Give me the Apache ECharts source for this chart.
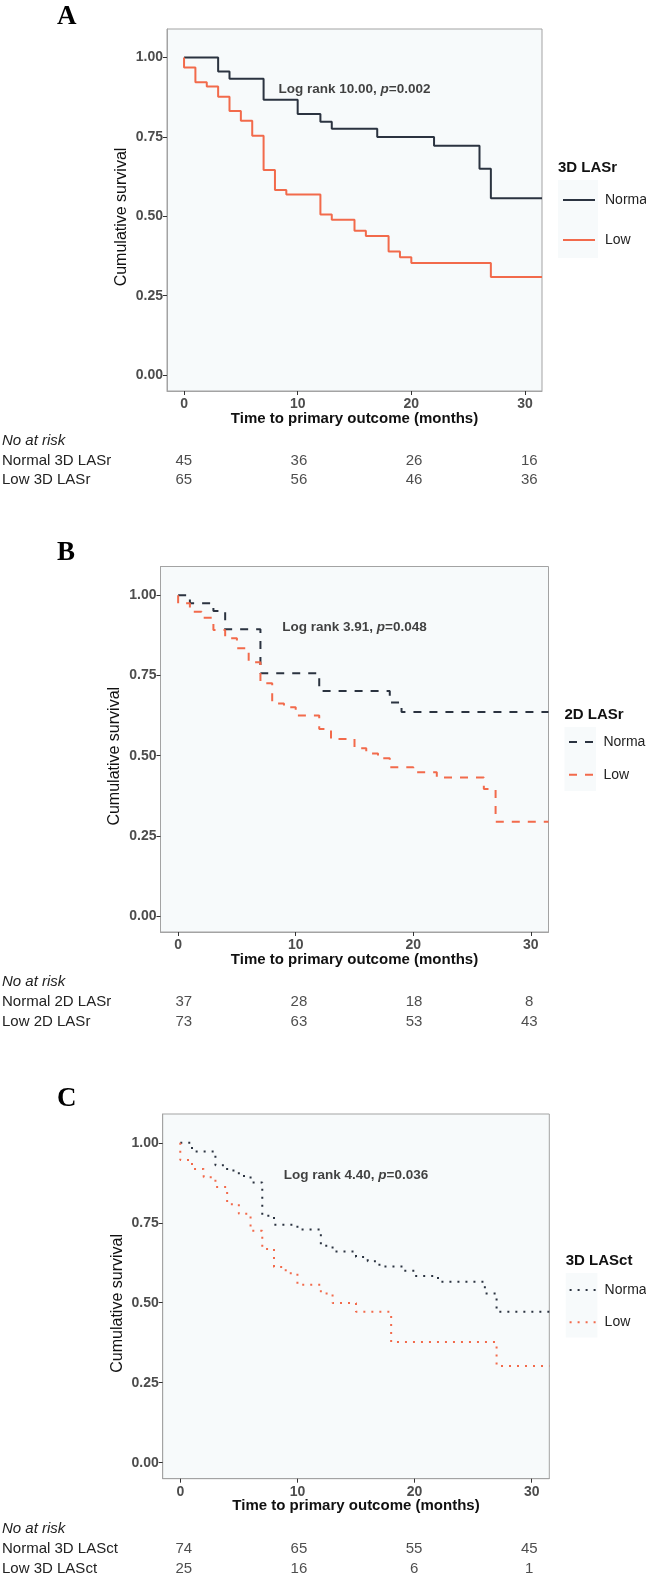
<!DOCTYPE html>
<html>
<head>
<meta charset="utf-8">
<script src="https://cdn.jsdelivr.net/npm/echarts@6.0.0/dist/echarts.min.js"></script>
<style>
  html, body { margin:0; padding:0; background:#fff; }
  #chart { width:646px; height:1577px; }
</style>
</head>
<body>
<div id="chart"></div>
<script>
// === Ejes ===
const xTicks = [0, 10, 20, 30];
const yTicks = [0, 0.25, 0.5, 0.75, 1];
const riskTimes = [0, 10, 20, 30];

// === A: 3D LASr ===
const aNormalT = [0, 3, 4, 7, 10, 12, 13, 17, 22, 26, 27, 31.5];
const aNormalS = [1, 0.956, 0.933, 0.867, 0.822, 0.798, 0.776, 0.75, 0.722, 0.65, 0.557, 0.557];
const aLowT = [0, 0, 1, 2, 3, 4, 5, 6, 7, 8, 9, 12, 13, 15, 16, 18, 19, 20, 27, 31.5];
const aLowS = [1, 0.969, 0.922, 0.909, 0.877, 0.832, 0.801, 0.754, 0.646, 0.583, 0.569, 0.506, 0.489, 0.455, 0.438, 0.389, 0.371, 0.353, 0.309, 0.309];
const aRiskNormal = [45, 36, 26, 16];
const aRiskLow = [65, 56, 46, 36];

// === B: 2D LASr ===
const bNormalT = [0, 1, 3, 4, 7, 12, 18, 19, 31.5];
const bNormalS = [1, 0.975, 0.951, 0.894, 0.757, 0.702, 0.666, 0.636, 0.636];
const bLowT = [0, 0, 1, 2, 3, 4, 5, 6, 7, 8, 9, 10, 12, 13, 15, 16, 17, 18, 20, 22, 26, 27, 31.5];
const bLowS = [1, 0.975, 0.949, 0.930, 0.892, 0.866, 0.835, 0.791, 0.726, 0.663, 0.651, 0.625, 0.583, 0.552, 0.523, 0.507, 0.492, 0.464, 0.448, 0.432, 0.396, 0.294, 0.294];
const bRiskNormal = [37, 28, 18, 8];
const bRiskLow = [73, 63, 53, 43];

// === C: 3D LASct ===
const cNormalT = [0, 1, 3, 4, 5, 6, 7, 8, 10, 12, 13, 15, 16, 17, 19, 20, 22, 26, 27, 31.5];
const cNormalS = [1, 0.973, 0.930, 0.913, 0.896, 0.876, 0.772, 0.744, 0.729, 0.678, 0.660, 0.643, 0.630, 0.613, 0.600, 0.584, 0.566, 0.529, 0.472, 0.472];
const cLowT = [0, 0, 1, 2, 3, 4, 5, 6, 7, 8, 9, 10, 12, 13, 15, 18, 27, 31.5];
const cLowS = [1, 0.946, 0.918, 0.892, 0.862, 0.808, 0.778, 0.725, 0.668, 0.612, 0.592, 0.556, 0.529, 0.499, 0.472, 0.377, 0.302, 0.302];
const cRiskNormal = [74, 65, 55, 45];
const cRiskLow = [25, 16, 6, 1];

// === Estilo ===
const SANS = "'Liberation Sans', Arial, sans-serif";
const SERIF = "'Liberation Serif', 'Times New Roman', serif";
const navy = '#2B3340', orange = '#F26A4B', border = '#A3A3A3', panelBg = '#F7FAFB';

const PANELS = [
  { key:'A', group:'3D LASr', lr:'10.00', p:'0.002', dash:'solid',
    nT:aNormalT, nS:aNormalS, lT:aLowT, lS:aLowS, rN:aRiskNormal, rL:aRiskLow,
    rows:['Normal 3D LASr','Low 3D LASr'],
    grid:{ left:167, top:29, width:375, height:362 }, letterTop:4,
    risk:{ top:451.5, height:38 }, noRiskTop:433,
    leg:{ titleLeft:558, titleTop:160, left:562, top:193, w:32, gap:26, pad:5, bg:[558,180,40,78] } },
  { key:'B', group:'2D LASr', lr:'3.91', p:'0.048', dash:[8,8],
    nT:bNormalT, nS:bNormalS, lT:bLowT, lS:bLowS, rN:bRiskNormal, rL:bRiskLow,
    rows:['Normal 2D LASr','Low 2D LASr'],
    grid:{ left:160.5, top:566.5, width:388, height:365.5 }, letterTop:540,
    risk:{ top:992, height:40 }, noRiskTop:974,
    leg:{ titleLeft:564.5, titleTop:707, left:568, top:735, w:26, gap:18.7, pad:3.4, bg:[564.5,727,31.5,64] } },
  { key:'C', group:'3D LASct', lr:'4.40', p:'0.036', dash:[2,6],
    nT:cNormalT, nS:cNormalS, lT:cLowT, lS:cLowS, rN:cRiskNormal, rL:cRiskLow,
    rows:['Normal 3D LASct','Low 3D LASct'],
    grid:{ left:162.7, top:1114, width:386.6, height:364.7 }, letterTop:1086,
    risk:{ top:1539, height:40 }, noRiskTop:1521,
    leg:{ titleLeft:565.7, titleTop:1253, left:568.6, top:1283, w:27, gap:18.2, pad:3, bg:[565.7,1273,31.7,64.5] } }
];

const grids = [], xAxes = [], yAxes = [], series = [], legends = [], titles = [], graphics = [];

function km(name, t, s, color, dash, ai){
  return { name, type:'line', xAxisIndex:ai, yAxisIndex:ai, step:'end', symbol:'none', silent:true,
    lineStyle:{ color, width:2, type:dash, cap:'butt' }, itemStyle:{ color },
    data: t.map((x,i)=>[x, s[i]]) };
}

PANELS.forEach((P, k) => {
  const ai = k*2, ri = k*2 + 1;

  // panel principal
  grids.push({ ...P.grid, show:true, backgroundColor:panelBg, borderColor:border, borderWidth:1,
    containLabel:false, outerBoundsMode:'none' });
  xAxes.push({ gridIndex:ai, type:'value', min:-1.5, max:31.5,
    axisLine:{ show:true, onZero:false, lineStyle:{ color:border } },
    axisTick:{ show:true, customValues:xTicks, length:4, lineStyle:{ color:'#333' } },
    axisLabel:{ customValues:xTicks, margin:6, fontFamily:SANS, fontSize:14, fontWeight:'bold', color:'#4D4D4D' },
    splitLine:{ show:false },
    name:'Time to primary outcome (months)', nameLocation:'middle', nameGap:20, nameMoveOverlap:false,
    nameTextStyle:{ fontFamily:SANS, fontSize:15, fontWeight:'bold', color:'#111' } });
  yAxes.push({ gridIndex:ai, type:'value', min:-0.05, max:1.09,
    axisLine:{ show:true, onZero:false, lineStyle:{ color:border } },
    axisTick:{ show:true, customValues:yTicks, length:4, lineStyle:{ color:'#333' } },
    axisLabel:{ customValues:yTicks, margin:4, formatter:v => v.toFixed(2),
      fontFamily:SANS, fontSize:14, fontWeight:'bold', color:'#4D4D4D' },
    splitLine:{ show:false },
    name:'Cumulative survival', nameLocation:'middle', nameGap:37.5, nameMoveOverlap:false,
    nameTextStyle:{ fontFamily:SANS, fontSize:16, color:'#111', padding:[0,14,0,0] } });

  series.push(km(P.key+'|Normal', P.nT, P.nS, navy, P.dash, ai));
  series.push(km(P.key+'|Low', P.lT, P.lS, orange, P.dash, ai));
  series.push({ type:'scatter', xAxisIndex:ai, yAxisIndex:ai, symbolSize:0, silent:true,
    itemStyle:{ color:'transparent' }, data:[[15, 0.9]],
    label:{ show:true, position:'inside',
      formatter:`{b|Log rank ${P.lr}, }{i|p}{b|=${P.p}}`,
      rich:{ b:{ fontFamily:SANS, fontSize:13.5, fontWeight:'bold', color:'#111' },
             i:{ fontFamily:SANS, fontSize:13.5, fontWeight:'bold', fontStyle:'italic', color:'#111' } } } });

  // tabla "No at risk"
  grids.push({ left:166.5, width:380, top:P.risk.top, height:P.risk.height, show:false,
    containLabel:false, outerBoundsMode:'none' });
  xAxes.push({ gridIndex:ri, type:'value', min:-1.5, max:31.5, show:false });
  yAxes.push({ gridIndex:ri, type:'category', data:P.rows, inverse:true,
    axisLine:{ show:false }, axisTick:{ show:false },
    axisLabel:{ interval:0, align:'left', margin:164.5, fontFamily:SANS, fontSize:15, color:'#222' } });
  [P.rN, P.rL].forEach((vals, r) => series.push({ type:'scatter', xAxisIndex:ri, yAxisIndex:ri,
    symbolSize:0, silent:true, itemStyle:{ color:'transparent' },
    data: riskTimes.map((t,i)=>[t, P.rows[r], vals[i]]),
    label:{ show:true, position:'inside', formatter:p => p.value[2],
      fontFamily:SANS, fontSize:15, color:'#222' } }));

  // leyenda
  graphics.push({ type:'rect', z:0, shape:{ x:P.leg.bg[0], y:P.leg.bg[1], width:P.leg.bg[2], height:P.leg.bg[3] },
    style:{ fill:panelBg } });
  legends.push({ orient:'vertical', left:P.leg.left, top:P.leg.top, padding:0, selectedMode:false,
    itemWidth:P.leg.w, itemHeight:14, itemGap:P.leg.gap, itemStyle:{ opacity:0 }, lineStyle:{ width:2 },
    data:[P.key+'|Normal', P.key+'|Low'], formatter:n => n.split('|')[1],
    textStyle:{ fontFamily:SANS, fontSize:14, color:'#222', padding:[0,0,0,P.leg.pad] } });

  titles.push({ text:P.group, left:P.leg.titleLeft, top:P.leg.titleTop, padding:0,
    textStyle:{ fontFamily:SANS, fontSize:15, fontWeight:'bold', color:'#111' } });
  titles.push({ text:P.key, left:57, top:P.letterTop, padding:0,
    textStyle:{ fontFamily:SERIF, fontSize:27, fontWeight:'bold', color:'#000' } });
  titles.push({ text:'No at risk', left:2, top:P.noRiskTop, padding:0,
    textStyle:{ fontFamily:SANS, fontSize:15, fontStyle:'italic', fontWeight:'normal', color:'#222' } });
});

const chart = echarts.init(document.getElementById('chart'), null, { renderer:'canvas' });
chart.setOption({
  backgroundColor:'#fff', animation:false,
  title:titles, grid:grids, xAxis:xAxes, yAxis:yAxes, legend:legends, series, graphic:graphics
});
</script>
</body>
</html>
